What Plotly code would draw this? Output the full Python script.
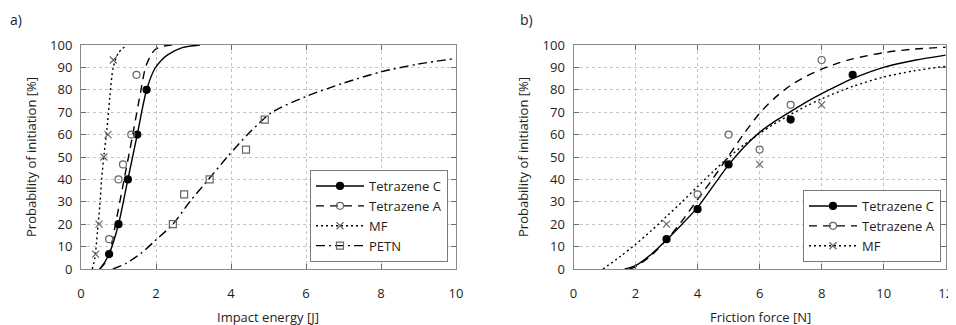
import plotly.graph_objects as go

# ---------------- data ----------------
# a) Impact energy [J]
imp_tzc_x = [0.75, 1.0, 1.25, 1.5, 1.75]
imp_tzc_y = [6.67, 20, 40, 60, 80]
imp_tza_x = [0.75, 1.0, 1.12, 1.34, 1.48]
imp_tza_y = [13.3, 40, 46.7, 60, 86.7]
imp_mf_x = [0.39, 0.48, 0.61, 0.72, 0.86]
imp_mf_y = [6.67, 20, 50, 60, 93.3]
imp_petn_x = [2.45, 2.75, 3.43, 4.4, 4.9]
imp_petn_y = [20, 33.3, 40, 53.3, 66.7]

# fitted curves
imp_tzc_cx = [0.5, 0.63, 0.75, 1.0, 1.25, 1.5, 1.75, 1.97, 2.15, 2.3, 2.7, 3.17]
imp_tzc_cy = [0, 3, 6.7, 20, 40, 60, 80, 89.5, 93.3, 95.5, 98.8, 100]
imp_tza_cx = [0.5, 0.65, 0.8, 0.92, 1.15, 1.38, 1.6, 1.72, 1.85, 1.98, 2.2, 2.45]
imp_tza_cy = [0, 3, 10, 20, 40, 60, 80, 90, 95, 98, 99.5, 100]
imp_mf_cx = [0.3, 0.37, 0.44, 0.5, 0.55, 0.62, 0.69, 0.77, 0.86, 1.0, 1.22]
imp_mf_cy = [0, 5, 17, 28, 40, 52, 62, 77, 90, 96.5, 100]
imp_petn_cx = [0.85, 1.2, 1.6, 2.0, 2.45, 2.9, 3.4, 3.9, 4.5, 5.1, 6.0, 7.0, 8.0, 9.0, 10.0]
imp_petn_cy = [0, 2.5, 7, 13, 20, 30, 40, 50, 61, 70, 77, 83, 88, 91.5, 94]

# b) Friction force [N]
fr_tzc_x = [3, 4, 5, 7, 9]
fr_tzc_y = [13.3, 26.7, 46.7, 66.7, 86.7]
fr_tza_x = [4, 5, 6, 7, 8]
fr_tza_y = [33.3, 60, 53.3, 73.3, 93.3]
fr_mf_x = [3, 6, 8]
fr_mf_y = [20, 46.7, 73.3]

fr_tzc_cx = [1.65, 2.0, 2.5, 3.0, 3.5, 4.0, 4.5, 5.0, 5.5, 6.0, 6.5, 7.0, 7.5, 8.0, 8.5, 9.0, 10.0, 11.0, 12.0]
fr_tzc_cy = [0, 1.5, 6.5, 13, 20, 27.5, 37, 46.5, 54.5, 61, 66, 70.3, 74.5, 78.3, 81.8, 85, 90, 93.2, 95.5]
fr_tza_cx = [1.8, 2.0, 2.5, 3.0, 3.5, 4.0, 4.5, 5.0, 5.5, 6.0, 6.5, 7.0, 7.5, 8.0, 8.5, 9.0, 10.0, 11.0, 12.0]
fr_tza_cy = [0, 1, 6, 13, 21.5, 31, 40.5, 50.5, 60.5, 69.5, 76.5, 82, 86, 89.2, 91.8, 93.8, 96.6, 98.2, 99]
fr_mf_cx = [0.95, 1.5, 2.0, 2.5, 3.0, 3.5, 4.0, 4.5, 5.0, 5.5, 6.0, 6.5, 7.0, 7.5, 8.0, 9.0, 10.0, 11.0, 12.0]
fr_mf_cy = [0, 5.5, 11, 17, 23.5, 30, 36.8, 43.5, 49.8, 55.5, 60.5, 65, 69, 72.7, 76, 81.5, 85.7, 88.5, 90.5]

y_ticks = list(range(0, 101, 10))
x_ticks_a = list(range(0, 11, 2))
x_ticks_b = list(range(0, 13, 2))

# ---------------- styles ----------------
FONT = "'Open Sans', 'Liberation Sans', sans-serif"
TXT = "#1e1e1e"
GREY = "#666666"
styles = {
    "Tetrazene C": dict(dash="solid", symbol="circle", mcolor="black", mline="black"),
    "Tetrazene A": dict(dash="8px,6px", symbol="circle-open", mcolor=GREY, mline=GREY),
    "MF": dict(dash="2px,3px", symbol="x-thin-open", mcolor=GREY, mline=GREY),
    "PETN": dict(dash="9px,4px,2px,4px", symbol="square-open", mcolor=GREY, mline=GREY),
}

fig = go.Figure()


def add_series(name, px, py, cx, cy, xa, ya, legend):
    st = styles[name]
    fig.add_trace(go.Scatter(
        x=cx, y=cy, mode="lines", xaxis=xa, yaxis=ya, showlegend=False,
        line=dict(color="black", width=1.4, dash=st["dash"], shape="spline", smoothing=0.8),
        hoverinfo="skip"))
    fig.add_trace(go.Scatter(
        x=px, y=py, mode="markers", xaxis=xa, yaxis=ya, showlegend=False, name=name,
        marker=dict(symbol=st["symbol"], size=7, color=st["mcolor"],
                    line=dict(color=st["mline"], width=1.2))))
    # legend entry (line + marker sample)
    fig.add_trace(go.Scatter(
        x=[None], y=[None], mode="lines+markers", xaxis=xa, yaxis=ya, name=name,
        legend=legend, showlegend=True,
        line=dict(color="black", width=1.4, dash=st["dash"]),
        marker=dict(symbol=st["symbol"], size=7, color=st["mcolor"],
                    line=dict(color=st["mline"], width=1.2))))


add_series("Tetrazene C", imp_tzc_x, imp_tzc_y, imp_tzc_cx, imp_tzc_cy, "x", "y", "legend")
add_series("Tetrazene A", imp_tza_x, imp_tza_y, imp_tza_cx, imp_tza_cy, "x", "y", "legend")
add_series("MF", imp_mf_x, imp_mf_y, imp_mf_cx, imp_mf_cy, "x", "y", "legend")
add_series("PETN", imp_petn_x, imp_petn_y, imp_petn_cx, imp_petn_cy, "x", "y", "legend")

add_series("Tetrazene C", fr_tzc_x, fr_tzc_y, fr_tzc_cx, fr_tzc_cy, "x2", "y2", "legend2")
add_series("Tetrazene A", fr_tza_x, fr_tza_y, fr_tza_cx, fr_tza_cy, "x2", "y2", "legend2")
add_series("MF", fr_mf_x, fr_mf_y, fr_mf_cx, fr_mf_cy, "x2", "y2", "legend2")

# the page body has an 8px margin: size the figure to fill the rest of the window
OFF = 8
W, H = 956 - OFF, 325 - OFF


def fx(px):
    return (px - OFF) / W


def fy(py):
    return 1 - (py - OFF) / H


dom_y = [fy(269), fy(45)]

axis_common = dict(
    showline=True, linecolor="#8a8a8a", linewidth=1, mirror="ticks",
    ticks="inside", ticklen=5, tickcolor="#6a6a6a", tickwidth=1,
    showgrid=True, gridcolor="#c4c4c4", griddash="dot", gridwidth=1,
    zeroline=False, automargin=False,
    tickfont=dict(family=FONT, size=13, color=TXT),
)

legend_common = dict(
    bgcolor="white", bordercolor="#7a7a7a", borderwidth=1,
    font=dict(family=FONT, size=13, color=TXT),
    tracegroupgap=0, itemwidth=48,
)

title_font = dict(family=FONT, size=13, color=TXT)

fig.update_layout(
    width=W, height=H,
    margin=dict(l=0, r=0, t=0, b=0, autoexpand=False),
    paper_bgcolor="white", plot_bgcolor="white",
    font=dict(family=FONT, size=13, color=TXT),
    xaxis=dict(domain=[fx(81), fx(456)], range=[0, 10], tickvals=x_ticks_a,
               ticklabelstandoff=12, anchor="y", **axis_common),
    yaxis=dict(domain=dom_y, range=[0, 100], tickvals=y_ticks,
               ticklabelstandoff=5, anchor="x", **axis_common),
    xaxis2=dict(domain=[fx(573.5), fx(945.7)], range=[0, 12], tickvals=x_ticks_b,
                ticklabelstandoff=12, anchor="y2", **axis_common),
    yaxis2=dict(domain=dom_y, range=[0, 100], tickvals=y_ticks,
                ticklabelstandoff=5, anchor="x2", **axis_common),
    legend=dict(x=fx(448), xanchor="right", y=fy(262), yanchor="bottom", **legend_common),
    legend2=dict(x=fx(941), xanchor="right", y=fy(262), yanchor="bottom", **legend_common),
    annotations=[
        dict(text="a)", x=fx(8), y=1, xref="paper", yref="paper", showarrow=False,
             xanchor="left", yanchor="top", font=dict(family=FONT, size=14, color=TXT)),
        dict(text="b)", x=fx(518), y=1, xref="paper", yref="paper", showarrow=False,
             xanchor="left", yanchor="top", font=dict(family=FONT, size=14, color=TXT)),
        dict(text="Impact energy [J]", x=fx(268), y=fy(317), xref="paper", yref="paper",
             showarrow=False, xanchor="center", yanchor="middle", font=title_font),
        dict(text="Friction force [N]", x=fx(760), y=fy(317), xref="paper", yref="paper",
             showarrow=False, xanchor="center", yanchor="middle", font=title_font),
        dict(text="Probability of initiation [%]", x=fx(31), y=fy(157), xref="paper",
             yref="paper", showarrow=False, textangle=-90, xanchor="center", yanchor="middle",
             font=title_font),
        dict(text="Probability of initiation [%]", x=fx(523), y=fy(157), xref="paper",
             yref="paper", showarrow=False, textangle=-90, xanchor="center", yanchor="middle",
             font=title_font),
    ],
)

fig.write_html("out.html")
